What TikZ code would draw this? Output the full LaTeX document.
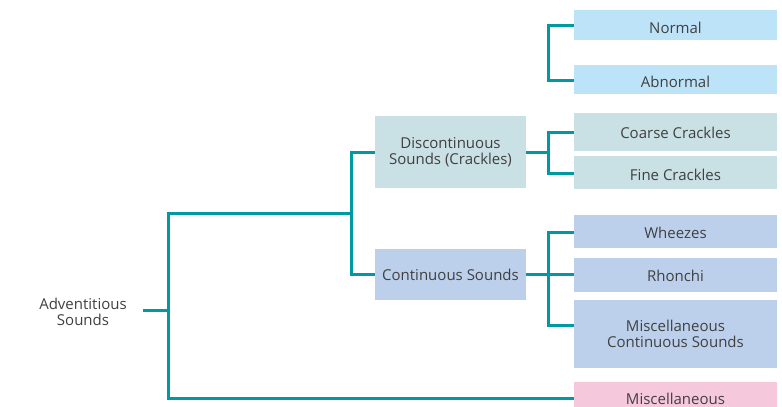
\documentclass[tikz,border=0pt]{standalone}
\usepackage{fontspec}
\setmainfont{Open Sans}
\definecolor{cblue}{HTML}{BDE3F8}
\definecolor{ccrack}{HTML}{C9E0E4}
\definecolor{ccont}{HTML}{BCD0EC}
\definecolor{cpink}{HTML}{F6C8DB}
\definecolor{teal2}{HTML}{0098A1}
\definecolor{txt}{HTML}{404040}
\newcommand{\lowr}[2]{\raisebox{-#1}[\height][\depth]{#2}}
\begin{document}
\begin{tikzpicture}[x=1pt,y=-1pt,
  box/.style={inner sep=0pt, align=center, text=txt, font=\fontsize{15}{15.5}\selectfont},
  leaf/.style={box, minimum width=203pt},
  mid/.style={box, minimum width=151pt},
  link/.style={draw=teal2, line width=3pt, line join=miter}]
\useasboundingbox (0,0) rectangle (782,407);
\clip (0,0) rectangle (782,407);
% leaves
\node[leaf, fill=cblue, minimum height=30pt] (normal) at (675.5,25) {\lowr{3pt}{Normal}};
\node[leaf, fill=cblue, minimum height=29pt] (abnormal) at (675.5,79.5) {\lowr{2pt}{Abnormal}};
\node[leaf, fill=ccrack, minimum height=38pt] (coarse) at (675.5,132) {\lowr{1pt}{Coarse Crackles}};
\node[leaf, fill=ccrack, minimum height=33pt] (fine) at (675.5,172.5) {\lowr{2pt}{Fine Crackles}};
\node[leaf, fill=ccont, minimum height=33pt] (wheezes) at (675.5,231.5) {\lowr{1pt}{Wheezes}};
\node[leaf, fill=ccont, minimum height=34pt] (rhonchi) at (675.5,275) {\lowr{1pt}{Rhonchi}};
\node[leaf, fill=ccont, minimum height=68pt] (misccont) at (675.5,334) {Miscellaneous\\Continuous Sounds};
\node[leaf, fill=cpink, minimum height=34pt] (misc) at (675.5,399) {Miscellaneous};
% middle
\node[mid, fill=ccrack, minimum height=72pt] (disc) at (450.5,152) {Discontinuous\\Sounds (Crackles)};
\node[mid, fill=ccont, minimum height=51pt] (cont) at (450.5,274.5) {Continuous Sounds};
% root
\node[box] (adv) at (83,312) {Adventitious\\Sounds};
\coordinate (advR) at (143,310);
% connectors
\draw[link] (advR) -- (168,310);
\draw[link] (351,213) -- (168,213) -- (168,398) -- (misc.west |- 0,398);
\draw[link] (disc.west) -| (351,274.5) -- (cont.west);
\draw[link] (normal.west) -| (548,80) -- (abnormal.west |- 0,80);
\draw[link] (disc.east) -- (548,152);
\draw[link] (coarse.west) -| (548,173) -- (fine.west |- 0,173);
\draw[link] (cont.east) -- (rhonchi.west |- 0,274.5);
\draw[link] (wheezes.west |- 0,232) -| (548,325) -- (misccont.west |- 0,325);
\end{tikzpicture}
\end{document}
